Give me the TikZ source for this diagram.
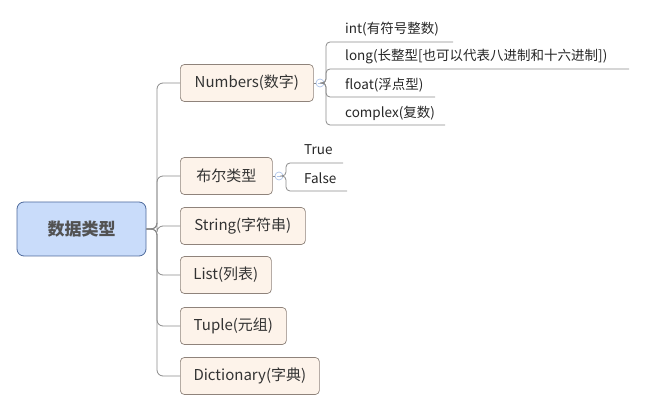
\documentclass[tikz,border=0pt]{standalone}
\usepackage{fontspec}
\setmainfont{Noto Sans CJK SC}
\usetikzlibrary{calc}
\definecolor{rootfill}{HTML}{C9DCFA}
\definecolor{rootdraw}{HTML}{4E6A9C}
\definecolor{kidfill}{HTML}{FDF3EA}
\definecolor{kiddraw}{HTML}{8F837B}
\definecolor{linec}{HTML}{8A8A8A}
\definecolor{circc}{HTML}{AFC4EA}
\definecolor{txt}{HTML}{333333}
\tikzset{
  rootbox/.style={draw=rootdraw, fill=rootfill, rounded corners=7pt, line width=0.8pt,
    minimum width=129pt, minimum height=54pt, font=\fontsize{17}{20}\selectfont\bfseries, text=txt!85, inner sep=0pt},
  kid/.style={draw=kiddraw, fill=kidfill, rounded corners=4pt, line width=0.7pt,
    minimum height=37pt, anchor=west, font=\fontsize{15}{17}\selectfont, text=txt, inner xsep=12pt, inner ysep=0pt},
  sub/.style={anchor=west, font=\fontsize{13.5}{16}\selectfont, text=black!85, inner sep=0pt},
  conn/.style={draw=linec, line width=0.8pt, rounded corners=6pt},
  subconn/.style={draw=linec, line width=0.8pt, rounded corners=4pt},
  fold/.style={circle, draw=circc, fill=white, line width=0.7pt, minimum size=8pt, inner sep=0pt,
    path picture={\draw[circc, line width=0.6pt] ($(path picture bounding box.center)+(-2.2pt,0)$) -- ($(path picture bounding box.center)+(2.2pt,0)$);}},
}
\begin{document}
\begin{tikzpicture}[x=1pt, y=-1pt]
\useasboundingbox (0,0) rectangle (645,411);
% root
\node[rootbox] (root) at (81.5,229) {数据类型};
% children
\node[kid, minimum width=133pt] (num) at (180,83) {Numbers(数字)};
\node[kid, minimum width=92pt] (bool) at (180,176) {布尔类型};
\node[kid, minimum width=125pt] (str) at (180,226) {String(字符串)};
\node[kid, minimum width=91pt] (list) at (180,275) {List(列表)};
\node[kid, minimum width=106pt] (tup) at (180,326) {Tuple(元组)};
\node[kid, minimum width=139pt] (dict) at (180,376) {Dictionary(字典)};
\coordinate (tr) at (157,229);
\foreach \k in {num,bool,str,list,tup,dict}{
  \draw[conn] (root.east) -- (tr) |- (\k.west);
}
% fold circles
\node[fold] (numc) at (320,83) {};
\node[fold] (boolc) at (279,176) {};
\draw[linec, line width=0.8pt] (num.east) -- (numc.west);
\draw[linec, line width=0.8pt] (bool.east) -- (boolc.west);
% Numbers sub-items
\coordinate (nv) at (326,83);
\node[sub] (int) at (345,29) {int(有符号整数)};
\node[sub] (long) at (345,57) {long(长整型[也可以代表八进制和十六进制])};
\node[sub] (float) at (345,85) {float(浮点型)};
\node[sub] (cplx) at (345,113) {complex(复数)};
\coordinate (inte) at (453,42);
\coordinate (longe) at (629,69);
\coordinate (floate) at (435,97);
\coordinate (cplxe) at (445,125);
\foreach \e in {inte,longe,floate,cplxe}{
  \draw[subconn] (numc.east) -- (nv) |- (\e);
}
% bool sub-items
\coordinate (bv) at (286,176);
\node[sub] (true) at (304,150) {True};
\node[sub] (false) at (304,178) {False};
\coordinate (truee) at (343,163);
\coordinate (falsee) at (347,191);
\foreach \e in {truee,falsee}{
  \draw[subconn] (boolc.east) -- (bv) |- (\e);
}
\end{tikzpicture}
\end{document}
